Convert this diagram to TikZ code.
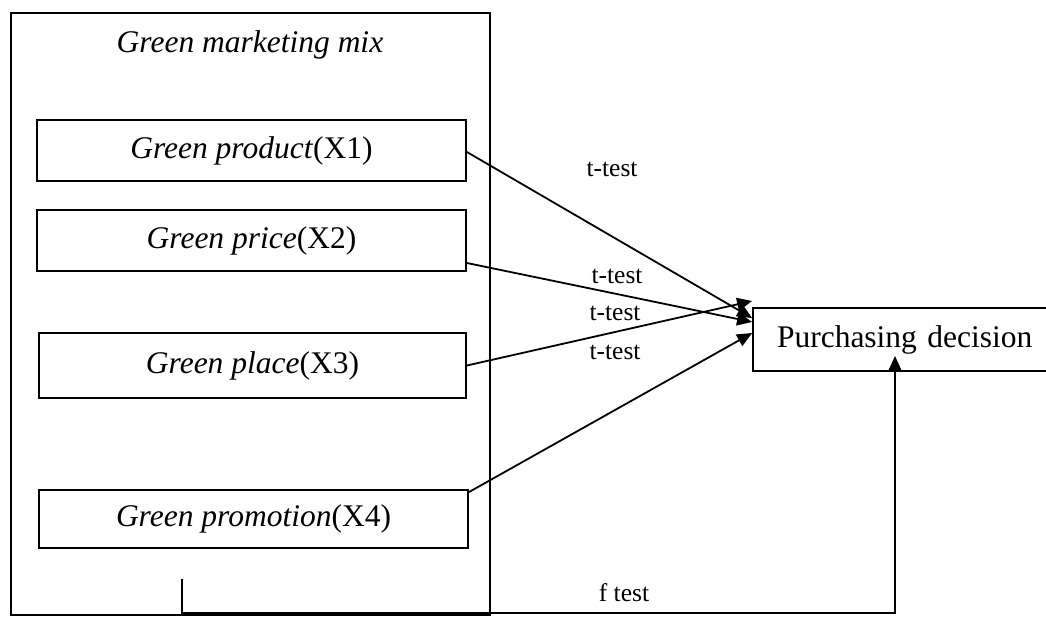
\documentclass[tikz,border=0pt]{standalone}
\usepackage{fontspec}
\setmainfont{Liberation Serif}
\usetikzlibrary{arrows.meta}
\begin{document}
\begin{tikzpicture}[x=1pt,y=-1pt,
  box/.style={draw,line width=1.8pt,inner sep=0pt,font=\fontsize{31.5}{36}\selectfont},
  lbl/.style={inner sep=0pt,font=\fontsize{25.5}{30}\selectfont},
  conn/.style={line width=1.8pt,-{Triangle[length=15pt,width=13pt]}}]
\useasboundingbox (0,0) rectangle (1046,618);
\node[box,minimum width=479pt,minimum height=602pt] (outer) at (250.5,314) {};
\node[inner sep=0pt,font=\fontsize{31.5}{36}\selectfont] (title) at (250,45) {\itshape Green marketing mix};
\node[box,minimum width=429pt,minimum height=61pt] (b1) at (251.5,150.5) {\textit{Green product}(X1)};
\node[box,minimum width=429pt,minimum height=61pt] (b2) at (251.5,240.5) {\textit{Green price}(X2)};
\node[box,minimum width=427pt,minimum height=65pt] (b3) at (252.5,365.5) {\textit{Green place}(X3)};
\node[box,minimum width=429pt,minimum height=58pt] (b4) at (253.5,519) {\textit{Green promotion}(X4)};
\node[box,minimum width=330pt,minimum height=63pt,text width=330pt,align=left] (pd) at (918,339.5) {\hspace*{24pt}Purchasing decision};
\draw[conn] ([yshift=-1.5pt]b1.east) -- ([yshift=21.5pt]pd.west);
\draw[conn] ([yshift=-22.5pt]b2.east) -- ([yshift=17.5pt]pd.west);
\draw[conn] (b3.east) -- ([yshift=38.5pt]pd.west);
\draw[conn] ([yshift=-3pt]b4.north east) -- ([yshift=6.5pt]pd.west);
\node[lbl] (t1) at (612,169) {t-test};
\node[lbl] (t2) at (617,276) {t-test};
\node[lbl] (t3) at (615,313) {t-test};
\node[lbl] (t4) at (615,352) {t-test};
\node[lbl] (ft) at (624,593) {f test};
\coordinate (fs) at (182,579);
\coordinate (fc) at (182,613);
\draw[conn] (fs) -- (fc) -| ([xshift=-23pt,yshift=16pt]pd.south);
\end{tikzpicture}
\end{document}
